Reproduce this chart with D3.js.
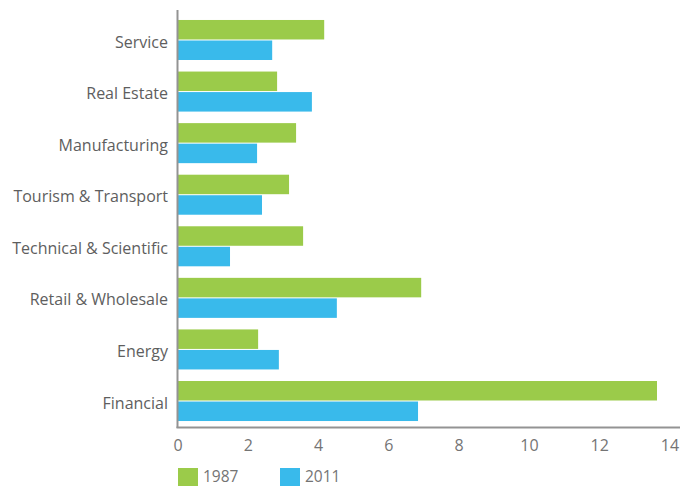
<!DOCTYPE html>
<html>
<head>
<meta charset="utf-8">
<script src="https://cdnjs.cloudflare.com/ajax/libs/d3/7.8.5/d3.min.js"></script>
<style>
  body { margin: 0; background: #fff; }
  text { font-family: "Open Sans", sans-serif; fill: #5e5e5e; }
</style>
</head>
<body>
<script>
var w = 680;
var h = 487;

var categories = ["Service", "Real Estate", "Manufacturing", "Tourism & Transport",
  "Technical & Scientific", "Retail & Wholesale", "Energy", "Financial"];
var years = ["1987", "2011"];
var values1987 = [4.16, 2.82, 3.36, 3.16, 3.56, 6.92, 2.28, 13.63];
var values2011 = [2.68, 3.81, 2.25, 2.39, 1.48, 4.52, 2.87, 6.83];
var xTicks = [0, 2, 4, 6, 8, 10, 12, 14];
var colors = ["#9bcb4a", "#39baeb"];

var svg = d3.select("body").append("svg")
  .attr("width", w)
  .attr("height", h);

var left = 178, axisTop = 10, axisBottom = 427;

var x = d3.scaleLinear().domain([0, 14]).range([left, 670]);

var y = d3.scaleBand()
  .domain(categories)
  .range([14.2, 426.8])
  .paddingInner(0.224)
  .paddingOuter(0.112);

var ySub = d3.scaleBand()
  .domain(years)
  .range([0, y.bandwidth()])
  .paddingInner(0.05);

var rows = categories.map((c, i) => ({ name: c, vals: [values1987[i], values2011[i]] }));

// Bars
var groups = svg.selectAll("g.group")
  .data(rows)
  .enter().append("g")
  .attr("class", "group")
  .attr("transform", d => "translate(0," + y(d.name) + ")");

groups.selectAll("rect")
  .data(d => d.vals.map((v, j) => ({ year: years[j], value: v, j: j })))
  .enter().append("rect")
  .attr("x", x(0))
  .attr("y", d => ySub(d.year))
  .attr("width", d => x(d.value) - x(0))
  .attr("height", ySub.bandwidth())
  .attr("fill", d => colors[d.j]);

// Category labels
svg.selectAll("text.cat")
  .data(categories)
  .enter().append("text")
  .attr("class", "cat")
  .attr("x", 168)
  .attr("y", d => y(d) + y.bandwidth() / 2 + 2)
  .attr("dy", "0.35em")
  .attr("text-anchor", "end")
  .style("font-size", "16px")
  .text(d => d);

// Axis lines
svg.append("line")
  .attr("x1", left - 0.5).attr("x2", left - 0.5)
  .attr("y1", axisTop).attr("y2", axisBottom + 1)
  .attr("stroke", "#939393").attr("stroke-width", 2);

svg.append("line")
  .attr("x1", left - 1.5).attr("x2", w)
  .attr("y1", axisBottom + 0.5).attr("y2", axisBottom + 0.5)
  .attr("stroke", "#939393").attr("stroke-width", 2);

// X tick labels
svg.selectAll("text.tick")
  .data(xTicks)
  .enter().append("text")
  .attr("class", "tick")
  .attr("x", d => x(d))
  .attr("y", 445)
  .attr("dy", "0.35em")
  .attr("text-anchor", "middle")
  .style("font-size", "16px")
  .style("fill", "#747474")
  .text(d => d);

// Legend
var legend = svg.selectAll("g.legend")
  .data(years)
  .enter().append("g")
  .attr("class", "legend")
  .attr("transform", (d, i) => "translate(" + [178 + i * 102, 468] + ")");

legend.append("rect")
  .attr("width", 20)
  .attr("height", 18)
  .attr("fill", (d, i) => colors[i]);

legend.append("text")
  .attr("x", 25)
  .attr("y", 9)
  .attr("dy", "0.33em")
  .style("font-size", "15.5px")
  .style("fill", "#747474")
  .text(d => d);
</script>
</body>
</html>
